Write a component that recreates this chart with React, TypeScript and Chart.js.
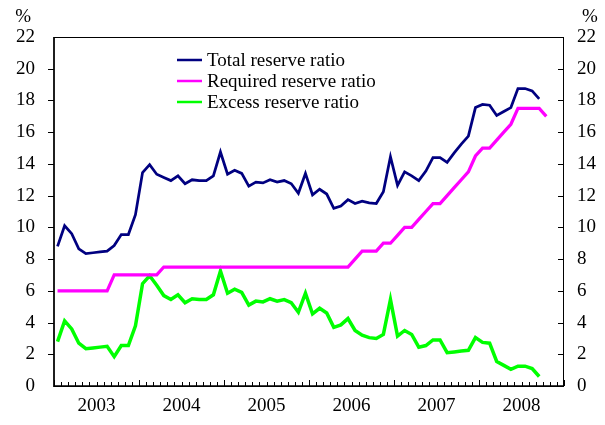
import React, { useEffect, useRef } from 'react';
import { Chart, registerables } from 'chart.js';

Chart.register(...registerables);

// ---- Data (end-of-month values, Jan 2003 onward) ----
const years = ['2003', '2004', '2005', '2006', '2007', '2008'];
const monthNames = ['Jan', 'Feb', 'Mar', 'Apr', 'May', 'Jun', 'Jul', 'Aug', 'Sep', 'Oct', 'Nov', 'Dec'];

const totalReserve = [
  8.8, 10.1, 9.6, 8.65, 8.35, 8.4, 8.45, 8.5, 8.85, 9.55, 9.55, 10.8,
  13.45, 13.95, 13.35, 13.15, 12.95, 13.25, 12.75, 13.0, 12.95, 12.95, 13.25, 14.75,
  13.35, 13.6, 13.4, 12.6, 12.85, 12.8, 13.0, 12.85, 12.95, 12.75, 12.15, 13.4,
  12.05, 12.4, 12.1, 11.2, 11.35, 11.75, 11.5, 11.65, 11.55, 11.5, 12.25, 14.45,
  12.65, 13.5, 13.25, 12.95, 13.55, 14.4, 14.4, 14.1, 14.7, 15.25, 15.75, 17.55,
  17.75, 17.7, 17.05, 17.3, 17.55, 18.75, 18.75, 18.6, 18.1,
];

const requiredReserve = [
  6, 6, 6, 6, 6, 6, 6, 6, 7, 7, 7, 7,
  7, 7, 7, 7.5, 7.5, 7.5, 7.5, 7.5, 7.5, 7.5, 7.5, 7.5,
  7.5, 7.5, 7.5, 7.5, 7.5, 7.5, 7.5, 7.5, 7.5, 7.5, 7.5, 7.5,
  7.5, 7.5, 7.5, 7.5, 7.5, 7.5, 8, 8.5, 8.5, 8.5, 9, 9,
  9.5, 10, 10, 10.5, 11, 11.5, 11.5, 12, 12.5, 13, 13.5, 14.5,
  15, 15, 15.5, 16, 16.5, 17.5, 17.5, 17.5, 17.5, 17,
];

const excessReserve = [
  2.8, 4.1, 3.6, 2.7, 2.35, 2.4, 2.45, 2.5, 1.85, 2.55, 2.55, 3.8,
  6.45, 6.95, 6.35, 5.7, 5.45, 5.75, 5.25, 5.5, 5.45, 5.45, 5.75, 7.25,
  5.85, 6.1, 5.9, 5.1, 5.35, 5.3, 5.5, 5.35, 5.45, 5.25, 4.65, 5.85,
  4.55, 4.9, 4.6, 3.7, 3.85, 4.25, 3.5, 3.2, 3.05, 3.0, 3.25, 5.45,
  3.15, 3.5, 3.25, 2.45, 2.55, 2.9, 2.9, 2.1, 2.15, 2.2, 2.25, 3.05,
  2.75, 2.7, 1.55, 1.3, 1.05, 1.25, 1.25, 1.1, 0.6,
];

const seriesNames = ['Total reserve ratio', 'Required reserve ratio', 'Excess reserve ratio'];
const seriesColors = ['#000080', '#FF00FF', '#00FF00'];
const seriesWidths = [2.75, 3.25, 3.5];

const yMin = 0;
const yMax = 22;
const yStep = 2;
const unitLabel = '%';

const FONT_FAMILY = '"Liberation Serif", "Times New Roman", serif';
const FONT_SIZE = 19;

const monthLabels: string[] = [];
years.forEach((y) => monthNames.forEach((m) => monthLabels.push(`${m} ${y}`)));

const decorPlugin = {
  id: 'decor',
  beforeDatasetsDraw(chart: any) {
    const { ctx, chartArea: a, scales } = chart;
    const x = scales.x;
    const y = scales.y;
    ctx.save();
    ctx.strokeStyle = '#000';
    ctx.lineWidth = 1;
    // month tick marks (inside, pointing up)
    const n = monthLabels.length;
    for (let k = 0; k <= n; k++) {
      const px = Math.round(x.getPixelForValue(k - 0.5)) + 0.5;
      const len = k % 12 === 0 ? 6 : 4;
      ctx.beginPath();
      ctx.moveTo(px, a.bottom);
      ctx.lineTo(px, a.bottom - len);
      ctx.stroke();
    }
    // y tick marks: outward on left, inward on right
    for (let v = yMin + yStep; v < yMax; v += yStep) {
      const py = Math.round(y.getPixelForValue(v)) + 0.5;
      ctx.beginPath();
      ctx.moveTo(a.left - 6, py);
      ctx.lineTo(a.left, py);
      ctx.moveTo(a.right - 6, py);
      ctx.lineTo(a.right, py);
      ctx.stroke();
    }
    // frame
    ctx.lineWidth = 1;
    ctx.beginPath();
    ctx.moveTo(a.left, a.top + 0.5);
    ctx.lineTo(a.right, a.top + 0.5);
    ctx.moveTo(a.right - 0.5, a.top);
    ctx.lineTo(a.right - 0.5, a.bottom);
    ctx.stroke();
    ctx.lineWidth = 1.75;
    ctx.beginPath();
    ctx.moveTo(a.left, a.top);
    ctx.lineTo(a.left, a.bottom);
    ctx.lineTo(a.right, a.bottom);
    ctx.stroke();
    ctx.restore();
  },
  afterDraw(chart: any) {
    const { ctx, chartArea: a, scales } = chart;
    const x = scales.x;
    ctx.save();
    ctx.fillStyle = '#000';
    ctx.font = `${FONT_SIZE}px ${FONT_FAMILY}`;
    ctx.textBaseline = 'middle';
    ctx.textAlign = 'center';
    // year labels
    years.forEach((yr, i) => {
      const cx = (x.getPixelForValue(i * 12) + x.getPixelForValue(i * 12 + 11)) / 2;
      ctx.fillText(yr, cx, a.bottom + 20);
    });
    // unit labels
    ctx.textAlign = 'right';
    ctx.fillText(unitLabel, 31, a.top - 20);
    ctx.textAlign = 'left';
    ctx.fillText(unitLabel, 582, a.top - 20);
    // legend
    const lx = 177;
    const ly = 60;
    const gap = 21;
    seriesNames.forEach((name, i) => {
      const yy = ly + i * gap;
      ctx.strokeStyle = seriesColors[i];
      ctx.lineWidth = 2.5;
      ctx.beginPath();
      ctx.moveTo(lx, yy);
      ctx.lineTo(lx + 25, yy);
      ctx.stroke();
      ctx.fillStyle = '#000';
      ctx.textAlign = 'left';
      ctx.fillText(name, lx + 30, yy + 1);
    });
    ctx.restore();
  },
};

export default function App() {
  const canvasRef = useRef<HTMLCanvasElement | null>(null);

  useEffect(() => {
    const canvas = canvasRef.current;
    if (!canvas) return;
    const data = [totalReserve, requiredReserve, excessReserve];
    const chart = new Chart(canvas, {
      type: 'line',
      data: {
        labels: monthLabels,
        datasets: seriesNames.map((name, i) => ({
          label: name,
          data: data[i],
          borderColor: seriesColors[i],
          backgroundColor: seriesColors[i],
          borderWidth: seriesWidths[i],
          pointRadius: 0,
          tension: 0,
          fill: false,
          yAxisID: 'y',
        })),
      },
      options: {
        responsive: false,
        animation: false,
        devicePixelRatio: 1,
        layout: { padding: { top: 37, left: 0, right: 0, bottom: 0 } },
        plugins: {
          legend: { display: false },
          tooltip: { enabled: false },
        },
        scales: {
          x: {
            type: 'category',
            offset: true,
            grid: { display: false, drawTicks: false },
            border: { display: false },
            ticks: { display: false },
            afterFit: (s: any) => {
              s.height = 39;
            },
          },
          y: {
            position: 'left',
            min: yMin,
            max: yMax,
            grid: { display: false, drawTicks: false, tickLength: 0 },
            border: { display: false },
            ticks: {
              stepSize: yStep,
              padding: 19,
              color: '#000',
              font: { family: FONT_FAMILY, size: FONT_SIZE },
            },
            afterFit: (s: any) => {
              s.width = 54;
            },
          },
          y2: {
            position: 'right',
            min: yMin,
            max: yMax,
            grid: { display: false, drawTicks: false, tickLength: 0 },
            border: { display: false },
            ticks: {
              stepSize: yStep,
              padding: 13,
              color: '#000',
              font: { family: FONT_FAMILY, size: FONT_SIZE },
            },
            afterFit: (s: any) => {
              s.width = 41;
            },
          },
        },
      },
      plugins: [decorPlugin],
    });
    return () => chart.destroy();
  }, []);

  return (
    <div style={{ position: 'fixed', left: 0, top: 0, width: 605, height: 425, background: '#fff' }}>
      <canvas ref={canvasRef} width={605} height={425} style={{ display: 'block', width: 605, height: 425 }} />
    </div>
  );
}
